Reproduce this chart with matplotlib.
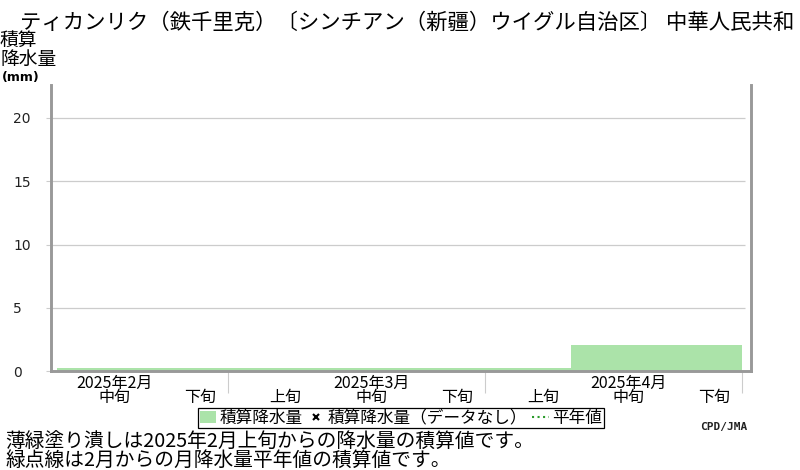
import matplotlib
matplotlib.use("Agg")
import matplotlib.pyplot as plt
from matplotlib.patches import Patch
from matplotlib.lines import Line2D

plt.rcParams['font.family'] = ['Noto Sans CJK JP', 'DejaVu Sans']

# ---- data ----
title = "ティカンリク（鉄千里克）〔シンチアン（新疆）ウイグル自治区〕 中華人民共和"
dekad_index = [1, 2, 3, 4, 5, 6, 7, 8]          # Feb中旬 .. Apr下旬 (0 = Feb上旬)
dekad_labels = ["中旬", "下旬", "上旬", "中旬", "下旬", "上旬", "中旬", "下旬"]
accum_precip = [0.25, 0.25, 0.25, 0.25, 0.25, 0.25, 2.1, 2.1]   # mm
month_labels = {1: "2025年2月", 4: "2025年3月", 7: "2025年4月"}
month_boundaries = [3, 6, 9]
y_ticks = [0, 5, 10, 15, 20]
notes = ["薄緑塗り潰しは2025年2月上旬からの降水量の積算値です。",
         "緑点線は2月からの月降水量平年値の積算値です。"]

green = "#abe3a9"
frame_gray = "#999999"
grid_gray = "#cccccc"

fig = plt.figure(figsize=(8, 4.7), dpi=100)
ax = fig.add_axes([50.5/800, 1-371.3/470, 700/800, (371.3-85)/470])

ax.bar(dekad_index, accum_precip, width=1.0, align='edge', color=green,
       edgecolor='none', zorder=2)

ax.set_xlim(0.9245, 9.095)
ax.set_ylim(0, 22.6)

# grid lines
ax.hlines(y_ticks[1:], 0.9245, 9.03, colors=grid_gray, linewidth=0.9, zorder=1)

for s in ['left', 'bottom', 'right']:
    ax.spines[s].set_color(frame_gray)
    ax.spines[s].set_linewidth(2.1)
ax.spines['top'].set_visible(False)

ax.set_yticks(y_ticks)
ax.set_yticklabels([str(v) for v in y_ticks], ha='left', color='#222222', fontsize=10,
                   family='DejaVu Sans')
ax.tick_params(axis='y', length=3.6, width=0.8, color=grid_gray, pad=23.4)

# dekad labels with month label on the line above (one text per tick)
xt_labels = []
for d, lab in zip(dekad_index, dekad_labels):
    top = month_labels.get(d, "")
    xt_labels.append(top + "\n" + lab)
ax.set_xticks([d + 0.67 for d in dekad_index])
ax.set_xticklabels(xt_labels, fontsize=11.5, linespacing=0.82)
ax.tick_params(axis='x', which='major', length=0, pad=2.5)
ax.set_xticks(month_boundaries, minor=True)
ax.tick_params(axis='x', which='minor', length=15.8, width=0.8, color=grid_gray)

# title & axis label
fig.text(20/800, 1-22.5/470, title, ha='left', va='center', fontsize=15.4)
fig.text(0, 1-49.5/470, "積算\n降水量", ha='left', va='center', fontsize=13.5,
         linespacing=0.88)
fig.text(2/800, 1-77/470, "(mm)", ha='left', va='center', fontsize=9, fontweight='bold',
         family='DejaVu Sans')

# legend
handles = [Patch(facecolor=green, edgecolor='none'),
           Line2D([], [], marker='x', color='black', linestyle='none', markersize=4, mew=1.5),
           Line2D([], [], color='#2a9a2a', linestyle=':', linewidth=1.5)]
labels = ["積算降水量", "積算降水量（データなし）", "平年値"]
leg = fig.legend(handles, labels, loc='center', bbox_to_anchor=(400.8/800, 1-418/470),
                 ncol=3, fontsize=12, frameon=True, fancybox=False, edgecolor='black',
                 framealpha=1, borderpad=0.1, handlelength=1.0, handletextpad=0.2,
                 columnspacing=0.3, borderaxespad=0)
leg.get_frame().set_linewidth(0.9)

fig.text(700/800, 1-427/470, "CPD/JMA", ha='left', va='center', fontsize=8,
         fontweight='bold', family='DejaVu Sans Mono', color='#222222')

fig.text(5/800, 1-451/470, "\n".join(notes), ha='left', va='center', fontsize=14.2,
         linespacing=0.8)

fig.savefig("out.png", dpi=100)
